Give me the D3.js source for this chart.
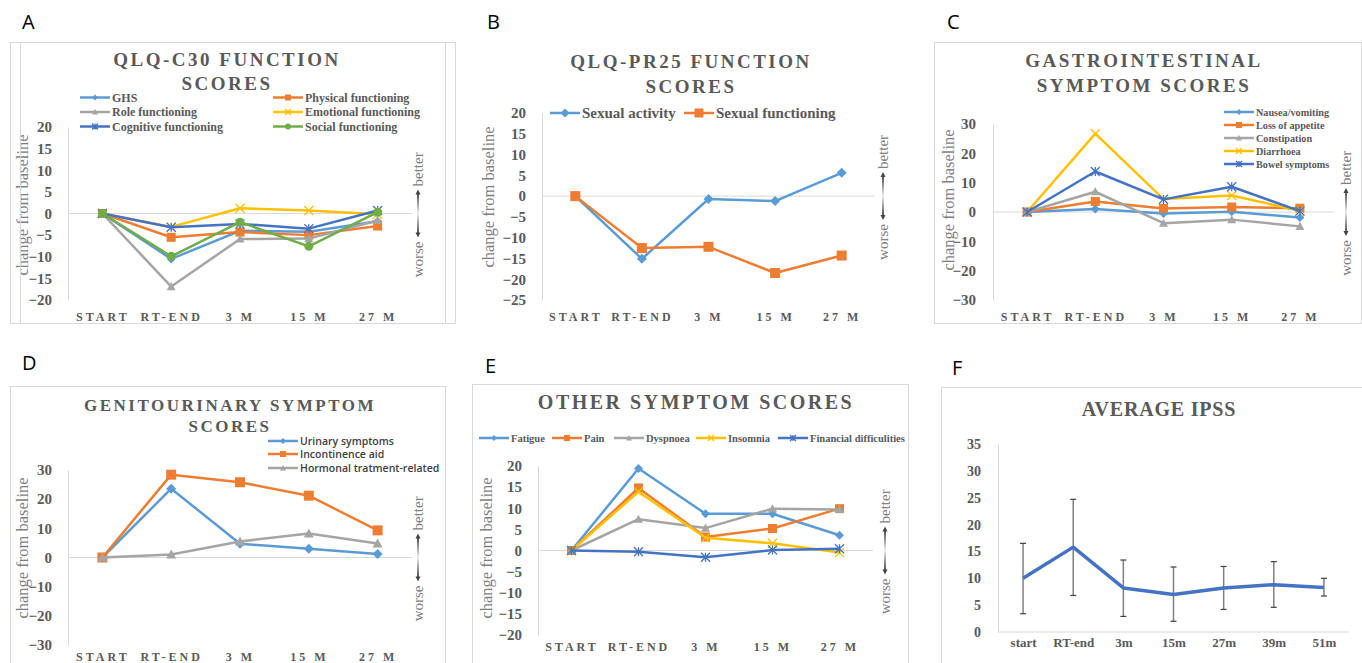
<!DOCTYPE html>
<html>
<head>
<meta charset="utf-8">
<script src="https://cdn.jsdelivr.net/npm/d3@7"></script>
<style>
  body { margin: 0; background: #fff; }
  svg { display: block; }
</style>
</head>
<body>
<script>
// categories
var cats = ["START", "RT-END", "3 M", "15 M", "27 M"];
var catsIpss = ["start", "RT-end", "3m", "15m", "27m", "39m", "51m"];

// A - QLQ-C30 function scores
var ghs        = [0, -10.5, -4.0, -4.2, -1.8];
var physical   = [0, -5.5, -4.3, -5.0, -2.9];
var role       = [0, -16.9, -5.9, -5.8, -1.6];
var emotional  = [0, -3.1, 1.2, 0.7, -0.2];
var cognitive  = [0, -3.2, -2.4, -3.5, 0.7];
var social     = [0, -9.9, -2.0, -7.6, 0.3];

// B - QLQ-PR25 function scores
var sexActivity    = [0, -15.1, -0.7, -1.2, 5.6];
var sexFunctioning = [0, -12.5, -12.2, -18.5, -14.3];

// C - gastrointestinal symptom scores
var nausea       = [0, 1.0, -0.5, 0.1, -1.9];
var appetite     = [0, 3.6, 1.2, 1.7, 1.3];
var constipation = [0, 6.9, -3.8, -2.6, -4.9];
var diarrhoea    = [0, 26.7, 4.4, 5.6, 0.4];
var bowel        = [0, 13.8, 4.3, 8.6, 0.3];

// D - genitourinary symptom scores
var urinary      = [0, 23.6, 4.7, 3.0, 1.2];
var incontinence = [0, 28.4, 25.8, 21.2, 9.3];
var hormonal     = [0, 1.0, 5.5, 8.2, 4.8];

// E - other symptom scores
var fatigue   = [0, 19.4, 8.7, 8.7, 3.6];
var pain      = [0, 14.8, 3.2, 5.2, 9.9];
var dyspnoea  = [0, 7.4, 5.3, 9.9, 9.7];
var insomnia  = [0, 13.9, 3.0, 1.7, -0.5];
var financial = [0, -0.3, -1.6, 0.1, 0.4];

// F - average IPSS with error bars
var ipssMean = [10.0, 15.8, 8.2, 7.0, 8.2, 8.8, 8.3];
var ipssHigh = [16.5, 24.7, 13.4, 12.1, 12.2, 13.1, 10.0];
var ipssLow  = [3.4, 6.8, 2.9, 2.0, 4.2, 4.6, 6.7];

// tick values
var ticksA = [20, 15, 10, 5, 0, -5, -10, -15, -20];
var ticksB = [20, 15, 10, 5, 0, -5, -10, -15, -20, -25];
var ticksCD = [30, 20, 10, 0, -10, -20, -30];
var ticksE = [20, 15, 10, 5, 0, -5, -10, -15, -20];
var ticksF = [0, 5, 10, 15, 20, 25, 30, 35];

var blue = "#5B9BD5", orange = "#ED7D31", grey = "#A5A5A5",
    yellow = "#FFC000", dblue = "#4472C4", green = "#70AD47";

var serif = "'Liberation Serif', 'Times New Roman', serif";
var sans = "'Open Sans', 'Liberation Sans', sans-serif";
var txt = "#595959";

var svg = d3.select("body").append("svg")
    .attr("width", 1362)
    .attr("height", 663);

var defs = svg.append("defs");
var grad = defs.append("linearGradient")
    .attr("id", "bwgrad").attr("x1", 0).attr("y1", 0).attr("x2", 0).attr("y2", 1);
grad.append("stop").attr("offset", "0%").attr("stop-color", "#444");
grad.append("stop").attr("offset", "50%").attr("stop-color", "#eee");
grad.append("stop").attr("offset", "100%").attr("stop-color", "#444");

function marker(g, type, x, y, color, s) {
  if (type == "diamond") {
    g.append("path").attr("d", "M" + x + "," + (y - s) + "L" + (x + s) + "," + y + "L" + x + "," + (y + s) + "L" + (x - s) + "," + y + "Z")
      .attr("fill", color);
  } else if (type == "square") {
    g.append("rect").attr("x", x - s).attr("y", y - s).attr("width", 2 * s).attr("height", 2 * s)
      .attr("fill", color);
  } else if (type == "triangle") {
    g.append("path").attr("d", "M" + x + "," + (y - s) + "L" + (x + s) + "," + (y + s * 0.8) + "L" + (x - s) + "," + (y + s * 0.8) + "Z")
      .attr("fill", color);
  } else if (type == "circle") {
    g.append("circle").attr("cx", x).attr("cy", y).attr("r", s).attr("fill", color);
  } else if (type == "x" || type == "star") {
    var d = "M" + (x - s) + "," + (y - s) + "L" + (x + s) + "," + (y + s) +
            "M" + (x - s) + "," + (y + s) + "L" + (x + s) + "," + (y - s);
    if (type == "star") d += "M" + x + "," + (y - s) + "L" + x + "," + (y + s);
    g.append("path").attr("d", d).attr("stroke", color).attr("stroke-width", 1.3).attr("fill", "none");
  }
}

function label(sel, family, weight, size, color) {
  return sel.style("font-family", family).style("font-weight", weight)
    .style("font-size", size + "px").attr("fill", color);
}

function betterWorse(x, yc) {
  var g = svg.append("g");
  g.append("rect").attr("x", x - 1).attr("y", yc - 21).attr("width", 2).attr("height", 42)
    .attr("fill", "url(#bwgrad)");
  g.append("path").attr("d", "M" + (x - 2.5) + "," + (yc - 19) + "L" + x + "," + (yc - 24) + "L" + (x + 2.5) + "," + (yc - 19) + "Z").attr("fill", "#444");
  g.append("path").attr("d", "M" + (x - 2.5) + "," + (yc + 19) + "L" + x + "," + (yc + 24) + "L" + (x + 2.5) + "," + (yc + 19) + "Z").attr("fill", "#444");
  label(g.append("text").attr("transform", "translate(" + (x + 5) + "," + (yc - 27) + ") rotate(-90)"),
    serif, "normal", 15, "#808080").text("better");
  label(g.append("text").attr("transform", "translate(" + (x + 5) + "," + (yc + 28) + ") rotate(-90)")
    .attr("text-anchor", "end"), serif, "normal", 15, "#808080").text("worse");
}

function drawPanel(p) {
  var g = svg.append("g");

  label(g.append("text").attr("x", p.letter[1]).attr("y", p.letter[2]), sans, "normal", 20, "#000")
    .text(p.letter[0]);

  g.append("rect").attr("x", p.box[0] + 0.5).attr("y", p.box[1] + 0.5)
    .attr("width", p.box[2]).attr("height", p.box[3])
    .attr("fill", "none").attr("stroke", "#d9d9d9");

  p.title.forEach(function(t, i) {
    label(g.append("text").attr("x", p.titleX).attr("y", p.titleY[i])
      .attr("text-anchor", "middle").attr("letter-spacing", p.titleSpacing),
      serif, "bold", p.titleSize, txt).text(t);
  });

  var x = d3.scalePoint().domain(p.cats).range([p.plot.x0, p.plot.x1]).padding(0.5);
  var y = d3.scaleLinear().domain(p.yDomain).range([p.plot.y1, p.plot.y0]);

  // y axis
  var yAxis = g.append("g").attr("transform", "translate(" + p.plot.x0 + ",0)")
    .call(d3.axisLeft(y).tickValues(p.ticks).tickSize(0).tickPadding(p.tickPad));
  yAxis.attr("font-family", null);
  yAxis.select(".domain").attr("stroke", "#d9d9d9");
  label(yAxis.selectAll("text"), serif, "bold", p.tickSize, txt);

  // baseline at 0 (or bottom axis for IPSS)
  var base = p.yDomain[0] >= 0 ? p.yDomain[0] : 0;
  g.append("line").attr("x1", p.plot.x0).attr("x2", p.plot.x1)
    .attr("y1", y(base)).attr("y2", y(base)).attr("stroke", "#d9d9d9");

  // x labels
  var xAxis = g.append("g").attr("transform", "translate(0," + p.xLabelY + ")")
    .call(d3.axisBottom(x).tickSize(0).tickPadding(0));
  xAxis.attr("font-family", null);
  xAxis.select(".domain").remove();
  label(xAxis.selectAll("text").attr("letter-spacing", p.xSpacing), serif, "bold", p.xSize, txt);

  if (p.axisTitle) {
    label(g.append("text").attr("transform", "translate(" + p.axisTitle[0] + "," + p.axisTitle[1] + ") rotate(-90)")
      .attr("text-anchor", "middle").attr("dy", "0.35em"), serif, "normal", 16.5, "#7f7f7f")
      .text("change from baseline");
  }

  if (p.errLow) {
    p.errLow.forEach(function(lo, i) {
      var cx = x(p.cats[i]), hi = p.errHigh[i];
      g.append("line").attr("x1", cx).attr("x2", cx).attr("y1", y(lo)).attr("y2", y(hi))
        .attr("stroke", "#808080").attr("stroke-width", 1.5);
      [lo, hi].forEach(function(v) {
        g.append("line").attr("x1", cx - 3).attr("x2", cx + 3).attr("y1", y(v)).attr("y2", y(v))
          .attr("stroke", "#404040").attr("stroke-width", 1.2);
      });
    });
  }

  var line = d3.line().x(function(d, i) { return x(p.cats[i]); }).y(function(d) { return y(d); });

  p.series.forEach(function(s) {
    g.append("path").datum(s.values).attr("d", line)
      .attr("fill", "none").attr("stroke", s.color).attr("stroke-width", p.lineWidth || 2.5)
      .attr("stroke-linejoin", "round");
    if (s.marker) {
      var mg = g.append("g");
      s.values.forEach(function(v, i) {
        marker(mg, s.marker, x(p.cats[i]), y(v), s.color, p.markerSize);
      });
    }
  });

  // legend
  if (p.legend) {
    p.series.forEach(function(s, i) {
      var pos = p.legend.pos[i];
      var lg = g.append("g");
      lg.append("line").attr("x1", pos[0]).attr("x2", pos[0] + 30).attr("y1", pos[1]).attr("y2", pos[1])
        .attr("stroke", s.color).attr("stroke-width", 2.5);
      marker(lg, s.marker, pos[0] + 15, pos[1], s.color, p.legend.mSize);
      label(lg.append("text").attr("x", pos[0] + 32).attr("y", pos[1]).attr("dy", "0.35em"),
        p.legend.font, p.legend.weight, p.legend.size, p.legend.color || txt).text(s.name);
    });
  }

  if (p.bw) betterWorse(p.bw, y(0));
}

var panels = [
  {
    letter: ["A", 22, 29], box: [10, 42, 435, 281],
    title: ["QLQ-C30 FUNCTION", "SCORES"], titleX: 227, titleY: [66, 90], titleSize: 19, titleSpacing: 2.5,
    cats: cats, yDomain: [-20, 20], ticks: ticksA,
    plot: {x0: 68, x1: 412, y0: 127, y1: 300}, tickPad: 16, tickSize: 15,
    xLabelY: 312, xSize: 12, xSpacing: 3, axisTitle: [22, 205], bw: 418, markerSize: 4.5,
    series: [
      {name: "GHS", values: ghs, color: blue, marker: "diamond"},
      {name: "Physical functioning", values: physical, color: orange, marker: "square"},
      {name: "Role functioning", values: role, color: grey, marker: "triangle"},
      {name: "Emotional  functioning", values: emotional, color: yellow, marker: "x"},
      {name: "Cognitive functioning", values: cognitive, color: dblue, marker: "star"},
      {name: "Social  functioning", values: social, color: green, marker: "circle"}
    ],
    legend: {pos: [[80, 97.5], [273, 97.5], [80, 112], [273, 112], [80, 126.5], [273, 126.5]],
             font: serif, weight: "bold", size: 12, mSize: 3}
  },
  {
    letter: ["B", 487, 29], box: [20, 42, 435, 281],
    title: ["QLQ-PR25 FUNCTION", "SCORES"], titleX: 691, titleY: [68, 93], titleSize: 19, titleSpacing: 2.5,
    cats: cats, yDomain: [-25, 20], ticks: ticksB,
    plot: {x0: 542, x1: 875, y0: 113, y1: 300}, tickPad: 16, tickSize: 15,
    xLabelY: 312, xSize: 12, xSpacing: 3, axisTitle: [488, 197], bw: 883, markerSize: 5,
    series: [
      {name: "Sexual activity", values: sexActivity, color: blue, marker: "diamond"},
      {name: "Sexual functioning", values: sexFunctioning, color: orange, marker: "square"}
    ],
    legend: {pos: [[550, 113], [684, 113]], font: serif, weight: "bold", size: 15, mSize: 4.5}
  },
  {
    letter: ["C", 947, 29], box: [934, 42, 427, 281],
    title: ["GASTROINTESTINAL", "SYMPTOM SCORES"], titleX: 1144, titleY: [67, 92], titleSize: 19, titleSpacing: 2.5,
    cats: cats, yDomain: [-30, 30], ticks: ticksCD,
    plot: {x0: 993, x1: 1334, y0: 124, y1: 300}, tickPad: 17, tickSize: 15,
    xLabelY: 312, xSize: 12, xSpacing: 3, axisTitle: [948, 200], bw: 1346, markerSize: 4.5,
    series: [
      {name: "Nausea/vomiting", values: nausea, color: blue, marker: "diamond"},
      {name: "Loss of appetite", values: appetite, color: orange, marker: "square"},
      {name: "Constipation", values: constipation, color: grey, marker: "triangle"},
      {name: "Diarrhoea", values: diarrhoea, color: yellow, marker: "x"},
      {name: "Bowel symptoms", values: bowel, color: dblue, marker: "star"}
    ],
    legend: {pos: [[1224, 112], [1224, 125], [1224, 138], [1224, 151], [1224, 164]],
             font: serif, weight: "bold", size: 10.2, mSize: 3}
  },
  {
    letter: ["D", 22, 370], box: [10, 386, 435, 290],
    title: ["GENITOURINARY SYMPTOM", "SCORES"], titleX: 230, titleY: [411, 432], titleSize: 17, titleSpacing: 2.5,
    cats: cats, yDomain: [-30, 30], ticks: ticksCD,
    plot: {x0: 68, x1: 412, y0: 470, y1: 645}, tickPad: 16, tickSize: 15,
    xLabelY: 652, xSize: 12, xSpacing: 3, axisTitle: [22, 548], bw: 418, markerSize: 5,
    series: [
      {name: "Urinary symptoms", values: urinary, color: blue, marker: "diamond"},
      {name: "Incontinence aid", values: incontinence, color: orange, marker: "square"},
      {name: "Hormonal tratment-related", values: hormonal, color: grey, marker: "triangle"}
    ],
    legend: {pos: [[268, 441], [268, 454], [268, 468]],
             font: sans, weight: 600, size: 10.5, mSize: 3, color: "#404040"}
  },
  {
    letter: ["E", 485, 373], box: [472, 384, 436, 290],
    title: ["OTHER SYMPTOM SCORES"], titleX: 696, titleY: [409], titleSize: 20, titleSpacing: 2.5,
    cats: cats, yDomain: [-20, 20], ticks: ticksE,
    plot: {x0: 538, x1: 873, y0: 466, y1: 635}, tickPad: 16, tickSize: 15,
    xLabelY: 642, xSize: 12, xSpacing: 3, axisTitle: [486, 548], bw: 885, markerSize: 4.5,
    series: [
      {name: "Fatigue", values: fatigue, color: blue, marker: "diamond"},
      {name: "Pain", values: pain, color: orange, marker: "square"},
      {name: "Dyspnoea", values: dyspnoea, color: grey, marker: "triangle"},
      {name: "Insomnia", values: insomnia, color: yellow, marker: "x"},
      {name: "Financial difficulities", values: financial, color: dblue, marker: "star"}
    ],
    legend: {pos: [[479, 438], [552, 438], [614, 438], [696, 438], [778, 438]],
             font: serif, weight: "bold", size: 10.5, mSize: 3}
  },
  {
    letter: ["F", 952, 375], box: [941, 387, 430, 290],
    title: ["AVERAGE  IPSS"], titleX: 1159, titleY: [416], titleSize: 20, titleSpacing: 0.8,
    cats: catsIpss, yDomain: [0, 35], ticks: ticksF,
    plot: {x0: 998, x1: 1349, y0: 444, y1: 632}, tickPad: 17, tickSize: 14,
    xLabelY: 638, xSize: 13, xSpacing: 0, lineWidth: 3.5, markerSize: 0,
    series: [
      {name: "IPSS", values: ipssMean, color: dblue}
    ],
    errLow: ipssLow, errHigh: ipssHigh
  }
];

panels.forEach(drawPanel);
</script>
</body>
</html>
